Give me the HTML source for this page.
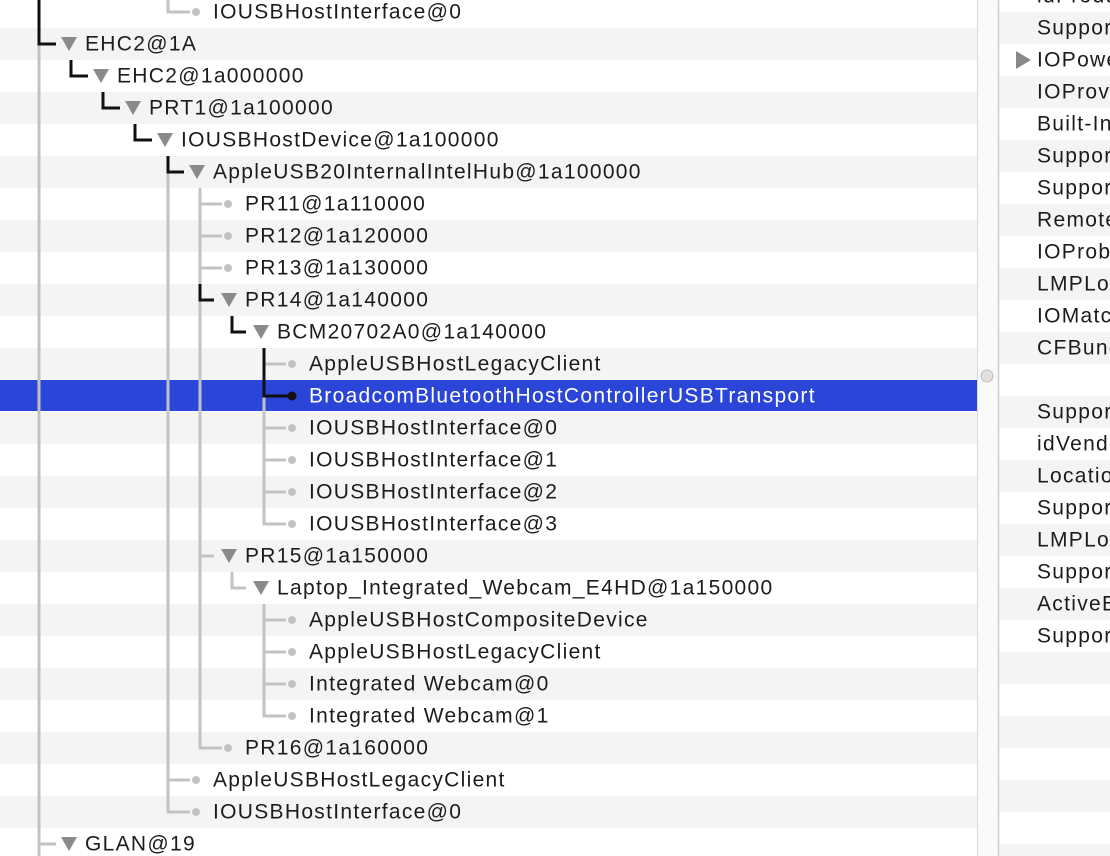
<!DOCTYPE html>
<html><head><meta charset="utf-8"><style>
html,body{margin:0;padding:0;background:#fff;width:1110px;height:856px;overflow:hidden}
svg{display:block}
text{font-family:"Liberation Sans",sans-serif;font-size:21px;fill:#1c1c1c;letter-spacing:1.3px;dominant-baseline:central}
</style></head><body>
<svg width="1110" height="856" viewBox="0 0 1110 856" xmlns="http://www.w3.org/2000/svg">
<g fill="#f4f4f4">
<rect x="0" y="28" width="977" height="32"/><rect x="0" y="92" width="977" height="32"/><rect x="0" y="156" width="977" height="32"/><rect x="0" y="220" width="977" height="32"/><rect x="0" y="284" width="977" height="32"/><rect x="0" y="348" width="977" height="32"/><rect x="0" y="412" width="977" height="32"/><rect x="0" y="476" width="977" height="32"/><rect x="0" y="540" width="977" height="32"/><rect x="0" y="604" width="977" height="32"/><rect x="0" y="668" width="977" height="32"/><rect x="0" y="732" width="977" height="32"/><rect x="0" y="796" width="977" height="32"/>
</g>
<rect x="0" y="380" width="977" height="31" fill="#2b45d8"/>
<g fill="#f4f4f4">
<rect x="999" y="12" width="111" height="32"/><rect x="999" y="76" width="111" height="32"/><rect x="999" y="140" width="111" height="32"/><rect x="999" y="204" width="111" height="32"/><rect x="999" y="268" width="111" height="32"/><rect x="999" y="332" width="111" height="32"/><rect x="999" y="396" width="111" height="32"/><rect x="999" y="460" width="111" height="32"/><rect x="999" y="524" width="111" height="32"/><rect x="999" y="588" width="111" height="32"/><rect x="999" y="652" width="111" height="32"/><rect x="999" y="716" width="111" height="32"/><rect x="999" y="780" width="111" height="32"/><rect x="999" y="844" width="111" height="32"/>
</g>
<rect x="977" y="0" width="22" height="856" fill="#fafafa"/>
<line x1="977.5" y1="0" x2="977.5" y2="856" stroke="#d8d8d8" stroke-width="1"/>
<line x1="998.5" y1="0" x2="998.5" y2="856" stroke="#cfcfcf" stroke-width="1.5"/>
<circle cx="987" cy="376" r="6" fill="#e0e0e0" stroke="#bdbdbd" stroke-width="1"/>

<g stroke="#c3c3c3" stroke-width="3" fill="none">
<line x1="39" y1="0" x2="39" y2="856"/>
<path d="M39 844H56"/>
<path d="M168 0V12H190"/>
<path d="M168 156V812H190"/><path d="M168 780H190"/>
<path d="M200 188V748H222"/><path d="M200 204H222M200 236H222M200 268H222M200 556H214"/>
<path d="M232 572V588H246"/>
<path d="M264 348V524H286"/><path d="M264 364H286M264 428H286M264 460H286M264 492H286"/>
<path d="M264 604V716H286"/><path d="M264 620H286M264 652H286M264 684H286"/>
</g>
<g fill="#c3c3c3">
<circle cx="196" cy="12" r="4"/><circle cx="196" cy="780" r="4"/><circle cx="196" cy="812" r="4"/>
<circle cx="228" cy="204" r="4"/><circle cx="228" cy="236" r="4"/><circle cx="228" cy="268" r="4"/><circle cx="228" cy="748" r="4"/>
<circle cx="292" cy="364" r="4"/><circle cx="292" cy="428" r="4"/><circle cx="292" cy="460" r="4"/><circle cx="292" cy="492" r="4"/><circle cx="292" cy="524" r="4"/>
<circle cx="292" cy="620" r="4"/><circle cx="292" cy="652" r="4"/><circle cx="292" cy="684" r="4"/><circle cx="292" cy="716" r="4"/>
</g>
<g stroke="#111" stroke-width="3" fill="none">
<path d="M39 0V44H56"/><path d="M71 60V76H88"/><path d="M103 92V108H120"/><path d="M135 124V140H152"/>
<path d="M168 156V172H184"/><path d="M200 284V300H214"/><path d="M232 316V332H246"/>
<path d="M264 348V396H288"/>
</g>
<circle cx="292" cy="396" r="4.5" fill="#111"/>
<g fill="#8a8a8a">
<path d="M61 37H77L69 51Z"/><path d="M93 69H109L101 83Z"/><path d="M125 101H141L133 115Z"/><path d="M157 133H173L165 147Z"/><path d="M189 165H205L197 179Z"/>
<path d="M221 293H237L229 307Z"/><path d="M253 325H269L261 339Z"/><path d="M221 549H237L229 563Z"/><path d="M253 581H269L261 595Z"/><path d="M61 837H77L69 851Z"/>
</g>
<path d="M1016 51V69L1031 60Z" fill="#8a8a8a"/>
<text x="213" y="12">IOUSBHostInterface@0</text>
<text x="85" y="44">EHC2@1A</text>
<text x="117" y="76">EHC2@1a000000</text>
<text x="149" y="108">PRT1@1a100000</text>
<text x="181" y="140">IOUSBHostDevice@1a100000</text>
<text x="213" y="172">AppleUSB20InternalIntelHub@1a100000</text>
<text x="245" y="204">PR11@1a110000</text>
<text x="245" y="236">PR12@1a120000</text>
<text x="245" y="268">PR13@1a130000</text>
<text x="245" y="300">PR14@1a140000</text>
<text x="277" y="332">BCM20702A0@1a140000</text>
<text x="309" y="364">AppleUSBHostLegacyClient</text>
<text x="309" y="396" style="fill:#fff">BroadcomBluetoothHostControllerUSBTransport</text>
<text x="309" y="428">IOUSBHostInterface@0</text>
<text x="309" y="460">IOUSBHostInterface@1</text>
<text x="309" y="492">IOUSBHostInterface@2</text>
<text x="309" y="524">IOUSBHostInterface@3</text>
<text x="245" y="556">PR15@1a150000</text>
<text x="277" y="588">Laptop_Integrated_Webcam_E4HD@1a150000</text>
<text x="309" y="620">AppleUSBHostCompositeDevice</text>
<text x="309" y="652">AppleUSBHostLegacyClient</text>
<text x="309" y="684">Integrated Webcam@0</text>
<text x="309" y="716">Integrated Webcam@1</text>
<text x="245" y="748">PR16@1a160000</text>
<text x="213" y="780">AppleUSBHostLegacyClient</text>
<text x="213" y="812">IOUSBHostInterface@0</text>
<text x="85" y="844">GLAN@19</text>
<text x="1037" y="-4">idProduct</text>
<text x="1037" y="28">SupportedFeatures</text>
<text x="1037" y="60">IOPowerManagement</text>
<text x="1037" y="92">IOProviderClass</text>
<text x="1037" y="124">Built-In</text>
<text x="1037" y="156">SupportedFeatures</text>
<text x="1037" y="188">SupportedFeatures</text>
<text x="1037" y="220">RemoteWake</text>
<text x="1037" y="252">IOProbeScore</text>
<text x="1037" y="284">LMPLoggingEnabled</text>
<text x="1037" y="316">IOMatchCategory</text>
<text x="1037" y="348">CFBundleIdentifier</text>
<text x="1037" y="412">SupportedFeatures</text>
<text x="1037" y="444">idVendor</text>
<text x="1037" y="476">LocationID</text>
<text x="1037" y="508">SupportedFeatures</text>
<text x="1037" y="540">LMPLoggingEnabled</text>
<text x="1037" y="572">SupportedFeatures</text>
<text x="1037" y="604">ActiveBluetooth</text>
<text x="1037" y="636">SupportedFeatures</text>
</svg>
</body></html>
